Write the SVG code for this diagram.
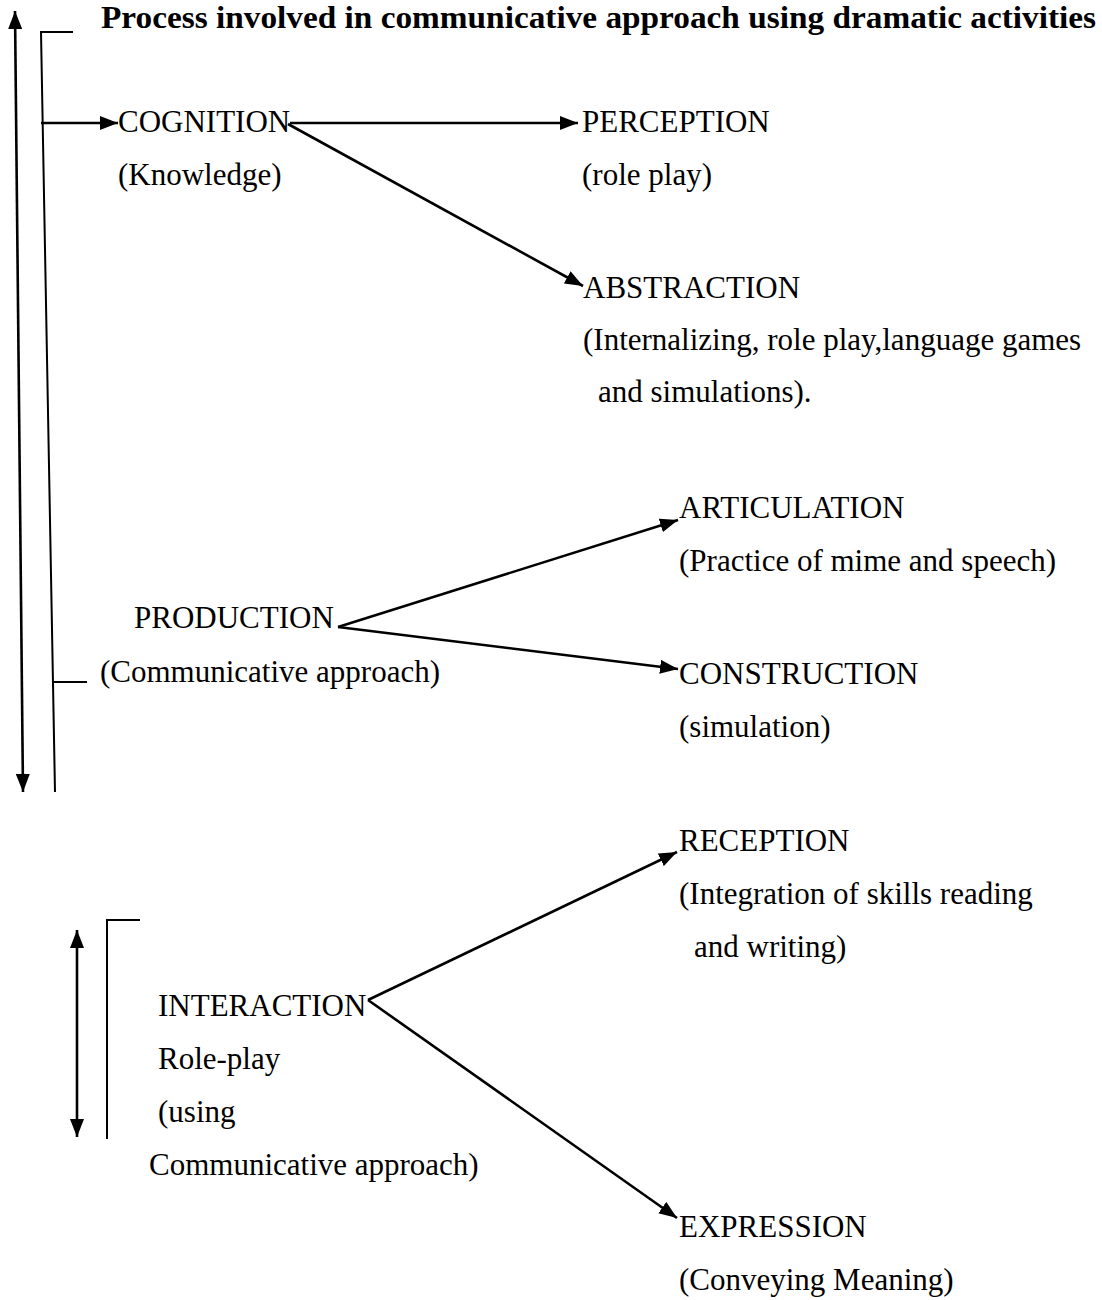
<svg xmlns="http://www.w3.org/2000/svg" width="1102" height="1300" viewBox="0 0 1102 1300">
<style>
text{font-family:"Liberation Serif","Times New Roman",serif;font-size:31px;fill:#000}
.title{font-weight:bold;font-size:31px}
.ln{stroke:#000;stroke-width:2.6;fill:none}
.br{stroke:#000;stroke-width:2;fill:none}
</style>
<defs>
<marker id="ah" markerUnits="userSpaceOnUse" markerWidth="18" markerHeight="14" refX="18" refY="7" orient="auto">
<path d="M0,0 L18,7 L0,14 z" fill="#000"/>
</marker>
<marker id="as" markerUnits="userSpaceOnUse" markerWidth="18" markerHeight="14" refX="0" refY="7" orient="auto">
<path d="M18,0 L0,7 L18,14 z" fill="#000"/>
</marker>
</defs>
<rect width="1102" height="1300" fill="#fff"/>
<text class="title" x="101" y="28" textLength="995" lengthAdjust="spacingAndGlyphs">Process involved in communicative approach using dramatic activities</text>
<g id="brackets">
<line class="ln" x1="15" y1="11" x2="23" y2="792" marker-start="url(#as)" marker-end="url(#ah)"/>
<polyline class="br" points="73,32 41,32 55,792"/>
<line class="br" x1="53" y1="682" x2="87" y2="682"/>
<line class="ln" x1="77" y1="930" x2="77" y2="1137" marker-start="url(#as)" marker-end="url(#ah)"/>
<polyline class="br" points="140,920 107,920 107,1139"/>
</g>
<g id="connectors">
<line class="ln" x1="41" y1="123" x2="118" y2="123" marker-end="url(#ah)"/>
<line class="ln" x1="290" y1="123" x2="578" y2="123" marker-end="url(#ah)"/>
<line class="ln" x1="288" y1="124" x2="583" y2="286" marker-end="url(#ah)"/>
<line class="ln" x1="338" y1="627" x2="678" y2="520" marker-end="url(#ah)"/>
<line class="ln" x1="338" y1="627" x2="678" y2="669" marker-end="url(#ah)"/>
<line class="ln" x1="368" y1="1000" x2="677" y2="852" marker-end="url(#ah)"/>
<line class="ln" x1="368" y1="1000" x2="677" y2="1218" marker-end="url(#ah)"/>
</g>
<g id="cognition"><text x="118" y="132">COGNITION</text><text x="118" y="185">(Knowledge)</text></g>
<g id="perception"><text x="582" y="132">PERCEPTION</text><text x="582" y="185">(role play)</text></g>
<g id="abstraction"><text x="583" y="298">ABSTRACTION</text><text x="583" y="350">(Internalizing, role play,language games</text><text x="598" y="402">and simulations).</text></g>
<g id="production"><text x="134" y="628">PRODUCTION</text><text x="100" y="682">(Communicative approach)</text></g>
<g id="articulation"><text x="679" y="518">ARTICULATION</text><text x="679" y="571">(Practice of mime and speech)</text></g>
<g id="construction"><text x="679" y="684">CONSTRUCTION</text><text x="679" y="737">(simulation)</text></g>
<g id="reception"><text x="679" y="851">RECEPTION</text><text x="679" y="904">(Integration of skills reading</text><text x="694" y="957">and writing)</text></g>
<g id="interaction"><text x="158" y="1016">INTERACTION</text><text x="158" y="1069">Role-play</text><text x="158" y="1122">(using</text><text x="149" y="1175">Communicative approach)</text></g>
<g id="expression"><text x="679" y="1237">EXPRESSION</text><text x="679" y="1290">(Conveying Meaning)</text></g>
</svg>
